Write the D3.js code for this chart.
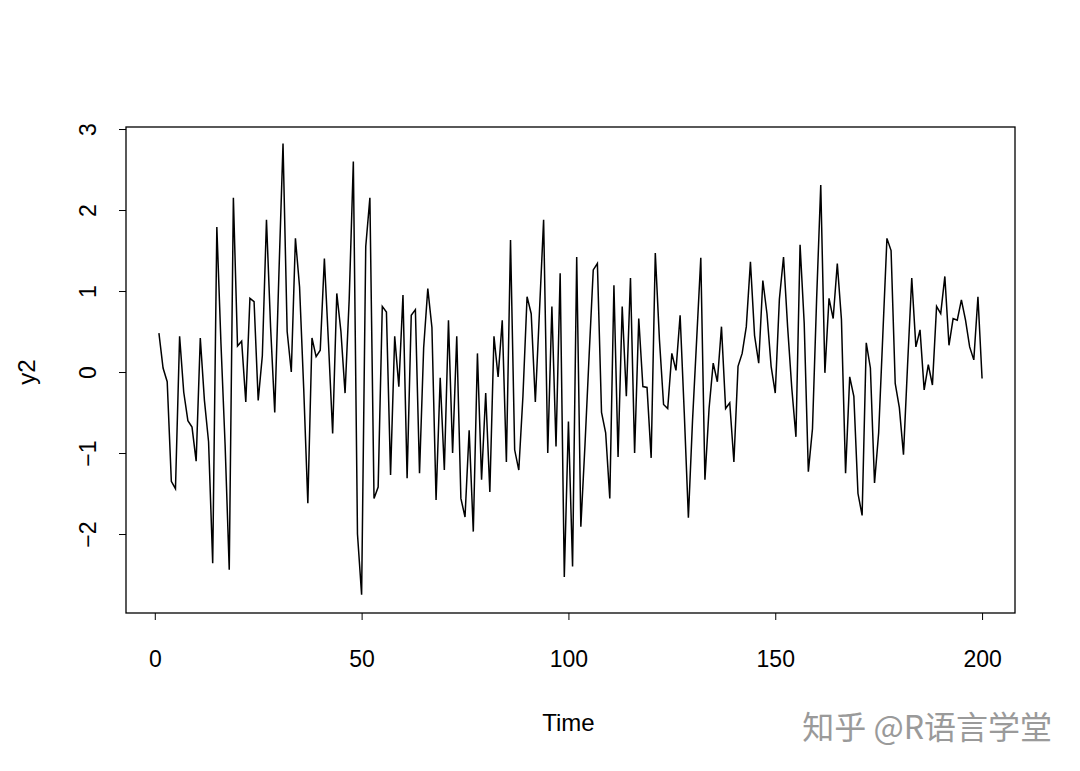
<!DOCTYPE html>
<html>
<head>
<meta charset="utf-8">
<script src="https://cdn.jsdelivr.net/npm/d3@7"></script>
<style>
  body { margin: 0; background: #fff; }
  text { font-family: "Liberation Sans", Arial, sans-serif; }
</style>
</head>
<body>
<svg width="1080" height="771"></svg>
<script>
// series y2 (t = 1..200)
var y2 = [
  0.48, 0.05, -0.12, -1.35, -1.44, 0.44, -0.25, -0.6, -0.68, -1.1,
  0.42, -0.35, -0.86, -2.36, 1.79, 0.35, -0.9, -2.44, 2.15, 0.32,
  0.38, -0.37, 0.91, 0.87, -0.35, 0.2, 1.88, 0.55, -0.5, 1.2,
  2.82, 0.5, 0.0, 1.65, 1.05, -0.2, -1.62, 0.42, 0.19, 0.27,
  1.4, 0.35, -0.76, 0.97, 0.5, -0.26, 0.9, 2.6, -2.0, -2.75,
  1.55, 2.15, -1.56, -1.42, 0.81, 0.74, -1.27, 0.44, -0.18, 0.95,
  -1.31, 0.7, 0.77, -1.25, 0.3, 1.03, 0.55, -1.58, -0.07, -1.21,
  0.64, -1.0, 0.44, -1.56, -1.79, -0.72, -1.97, 0.23, -1.33, -0.26,
  -1.48, 0.44, -0.06, 0.64, -1.11, 1.63, -0.96, -1.21, -0.3, 0.93,
  0.72, -0.37, 0.75, 1.88, -1.0, 0.81, -0.92, 1.22, -2.53, -0.61,
  -2.4, 1.42, -1.91, -0.9, 0.2, 1.26, 1.34, -0.5, -0.75, -1.56,
  1.07, -1.05, 0.81, -0.3, 1.16, -1.0, 0.66, -0.18, -0.19, -1.06,
  1.47, 0.4, -0.4, -0.45, 0.23, 0.02, 0.7, -0.5, -1.8, -0.6,
  0.4, 1.41, -1.33, -0.45, 0.11, -0.12, 0.56, -0.45, -0.38, -1.11,
  0.07, 0.23, 0.56, 1.36, 0.45, 0.11, 1.13, 0.72, 0.07, -0.26,
  0.9, 1.42, 0.55, -0.2, -0.8, 1.57, 0.6, -1.23, -0.7, 0.9,
  2.31, -0.01, 0.91, 0.66, 1.34, 0.65, -1.25, -0.06, -0.3, -1.5,
  -1.77, 0.36, 0.05, -1.37, -0.75, 0.45, 1.65, 1.5, -0.14, -0.44,
  -1.02, 0.1, 1.16, 0.31, 0.52, -0.22, 0.09, -0.16, 0.81, 0.72,
  1.18, 0.33, 0.66, 0.64, 0.89, 0.64, 0.31, 0.15, 0.93, -0.08
];
var xTicks = [0, 50, 100, 150, 200];
var yTicks = [-2, -1, 0, 1, 2, 3];

var margin = { top: 127, right: 65, bottom: 158, left: 126 },
    width = 1080 - margin.left - margin.right,
    height = 771 - margin.top - margin.bottom;

var svg = d3.select("svg")
    .append("g")
    .attr("transform", "translate(" + margin.left + "," + margin.top + ")");

// R style 4% padding around the data range
var x = d3.scaleLinear()
    .domain([1 - 199 * 0.04, 200 + 199 * 0.04])
    .range([0, width]);

var y = d3.scaleLinear()
    .domain([-2.975, 3.025])
    .range([height, 0]);

// x axis
var xAxis = svg.append("g")
    .attr("transform", "translate(0," + height + ")")
    .call(d3.axisBottom(x).tickValues(xTicks).tickSize(7).tickPadding(31));
xAxis.select(".domain").remove();
xAxis.selectAll("line").attr("stroke", "#000");
xAxis.selectAll("text")
    .style("font-size", "23px")
    .style("font-family", "Liberation Sans, Arial, sans-serif")
    .attr("fill", "#000");

// y axis, labels parallel to the axis as R does
var yAxis = svg.append("g")
    .call(d3.axisLeft(y).tickValues(yTicks).tickSize(7).tickFormat(d3.format("d")));
yAxis.select(".domain").remove();
yAxis.selectAll("line").attr("stroke", "#000");
yAxis.selectAll("text")
    .attr("x", null).attr("dy", null)
    .attr("transform", "translate(-30,0) rotate(-90)")
    .style("text-anchor", "middle")
    .style("font-size", "23px")
    .style("font-family", "Liberation Sans, Arial, sans-serif")
    .attr("fill", "#000");

// the series
var line = d3.line()
    .x(function (d, i) { return x(i + 1); })
    .y(function (d) { return y(d); });

svg.append("path")
    .datum(y2)
    .attr("fill", "none")
    .attr("stroke", "#000")
    .attr("stroke-width", 1.5)
    .attr("d", line);

// box
svg.append("rect")
    .attr("width", width)
    .attr("height", height)
    .attr("fill", "none")
    .attr("stroke", "#000")
    .attr("stroke-width", 1.3);

// titles
svg.append("text")
    .attr("x", x(100))
    .attr("y", height + 118)
    .attr("text-anchor", "middle")
    .style("font-size", "24px")
    .text("Time");

svg.append("text")
    .attr("transform", "translate(-91," + y(0) + ") rotate(-90)")
    .attr("text-anchor", "middle")
    .style("font-size", "24px")
    .text("y2");

// watermark
d3.select("svg").append("text")
    .attr("x", 1052)
    .attr("y", 739)
    .attr("text-anchor", "end")
    .attr("fill", "#9a9a9a")
    .style("font-family", "Noto Sans CJK SC, sans-serif")
    .style("font-size", "32px")
    .text("知乎 @R语言学堂");
</script>
</body>
</html>
